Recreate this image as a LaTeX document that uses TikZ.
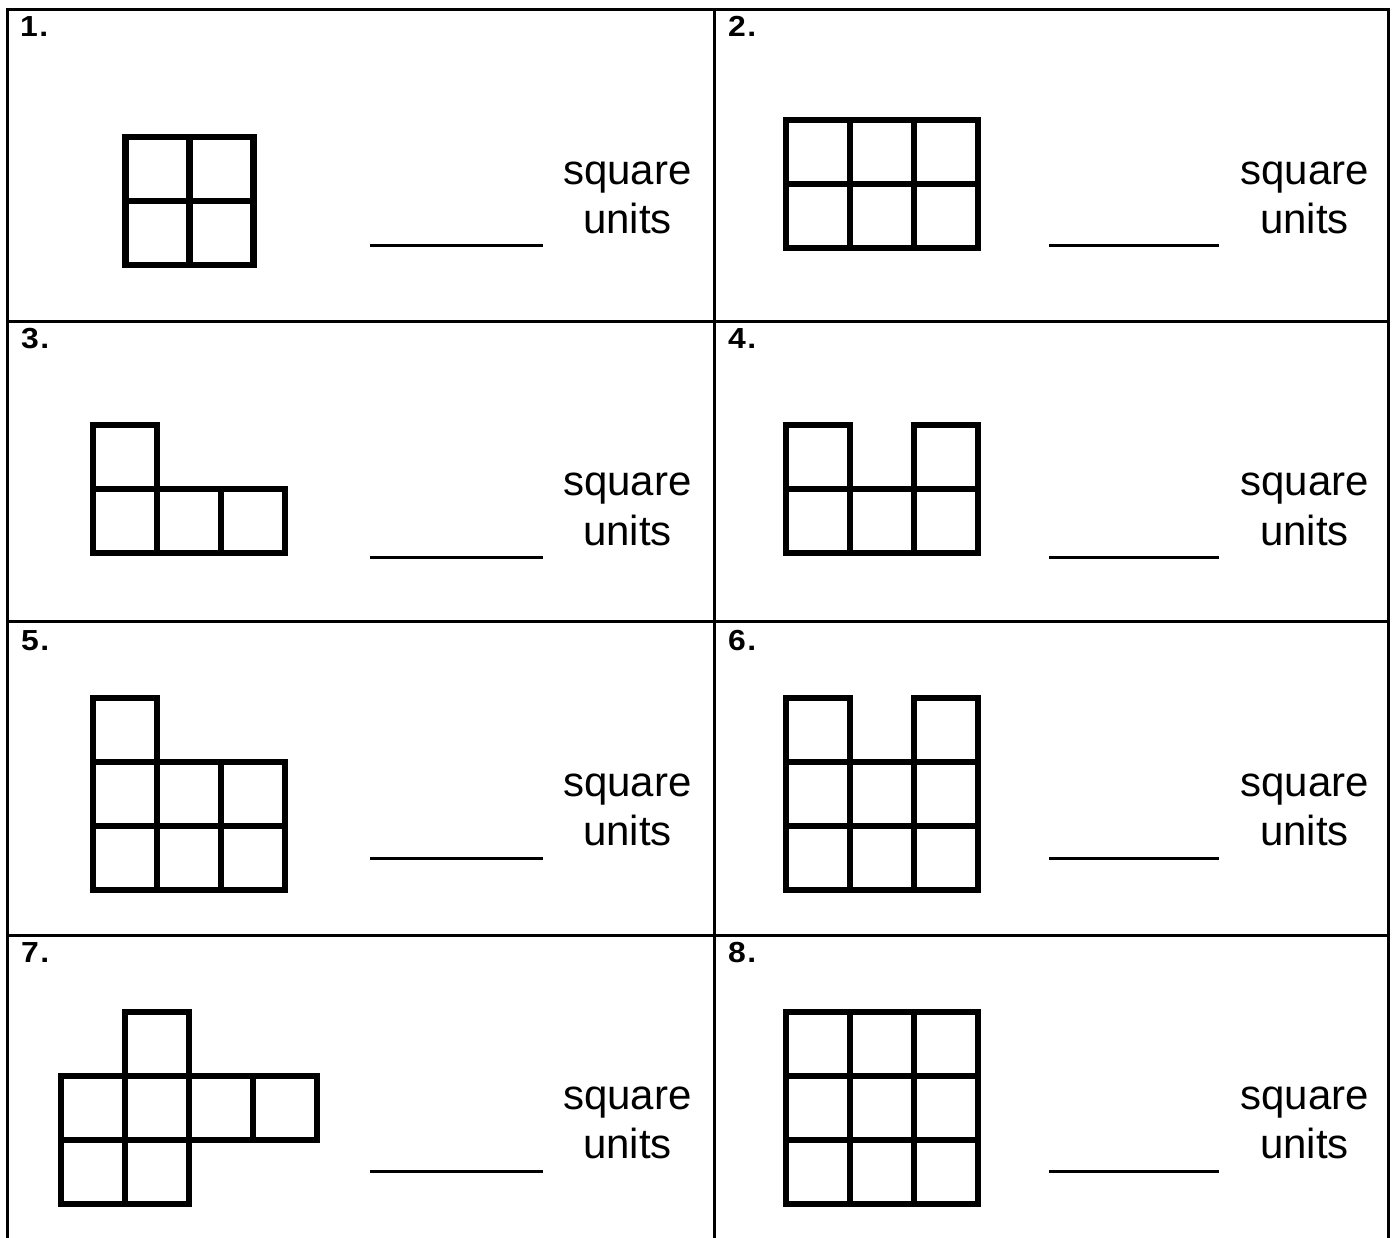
\documentclass[tikz,border=0pt]{standalone}
\usepackage{fontspec}
\setmainfont{Liberation Sans}
\newfontfamily\numfont{Liberation Sans}[FakeStretch=1.1]
\newcommand{\mycell}[4]{\draw[sq] ({#1+64*#3},{#2+64*#4}) rectangle ++(64,64);}
\newcommand{\numtxt}[1]{#1\kern1.5pt.}
\begin{document}
\begin{tikzpicture}[x=1pt,y=-1pt,
  frame/.style={line width=3pt,line join=miter},
  sq/.style={line width=6.5pt,line join=miter},
  ans/.style={line width=3pt},
  numlbl/.style={font=\numfont\fontsize{29}{33}\selectfont\bfseries,anchor=base west,inner sep=0pt},
  unitlbl/.style={font=\fontsize{42}{49}\selectfont,anchor=base,inner sep=0pt}]
\useasboundingbox (0,0) rectangle (1393,1238);
% frame
\draw[frame] (7.5,1238) -- (7.5,9.5) -- (1388,9.5) -- (1388,1238);
\draw[frame] (714,9.5) -- (714,1238);
\foreach \yy in {322,621.5,935} {\draw[frame] (7.5,\yy) -- (1388,\yy);}
% shape 1
\foreach \c/\r in {0/0,1/0,0/1,1/1} {\mycell{125.5}{137}{\c}{\r}}
% shape 2
\foreach \c/\r in {0/0,1/0,2/0,0/1,1/1,2/1} {\mycell{786}{120}{\c}{\r}}
% shape 3
\foreach \c/\r in {0/0,0/1,1/1,2/1} {\mycell{93}{425}{\c}{\r}}
% shape 4
\foreach \c/\r in {0/0,2/0,0/1,1/1,2/1} {\mycell{786}{425}{\c}{\r}}
% shape 5
\foreach \c/\r in {0/0,0/1,1/1,2/1,0/2,1/2,2/2} {\mycell{93}{698}{\c}{\r}}
% shape 6
\foreach \c/\r in {0/0,2/0,0/1,1/1,2/1,0/2,1/2,2/2} {\mycell{786}{698}{\c}{\r}}
% shape 7
\foreach \c/\r in {1/0,0/1,1/1,2/1,3/1,0/2,1/2} {\mycell{61}{1012}{\c}{\r}}
% shape 8
\foreach \c/\r in {0/0,1/0,2/0,0/1,1/1,2/1,0/2,1/2,2/2} {\mycell{786}{1012}{\c}{\r}}
% numbers
\node[numlbl] (n1) at (20,37) {\numtxt{1}};
\node[numlbl] (n2) at (728,37) {\numtxt{2}};
\node[numlbl] (n3) at (21,349) {\numtxt{3}};
\node[numlbl] (n4) at (728,349) {\numtxt{4}};
\node[numlbl] (n5) at (21,650) {\numtxt{5}};
\node[numlbl] (n6) at (728,650) {\numtxt{6}};
\node[numlbl] (n7) at (21,962) {\numtxt{7}};
\node[numlbl] (n8) at (728,962) {\numtxt{8}};
% texts and answer lines
\foreach \i/\sy/\ly in {1/185/246,2/496/557,3/796/858,4/1109/1171}{
  \node[unitlbl] (sqL\i) at (627.5,\sy) {square};
  \node[unitlbl] (unL\i) at (627.5,\sy+49) {units};
  \node[unitlbl] (sqR\i) at (1304.5,\sy) {square};
  \node[unitlbl] (unR\i) at (1304.5,\sy+49) {units};
  \coordinate (aL\i) at (370,\ly); \coordinate (bL\i) at (543,\ly);
  \coordinate (aR\i) at (1049,\ly); \coordinate (bR\i) at (1219,\ly);
  \draw[ans] (aL\i) -- (bL\i);
  \draw[ans] (aR\i) -- (bR\i);
}
\end{tikzpicture}
\end{document}
